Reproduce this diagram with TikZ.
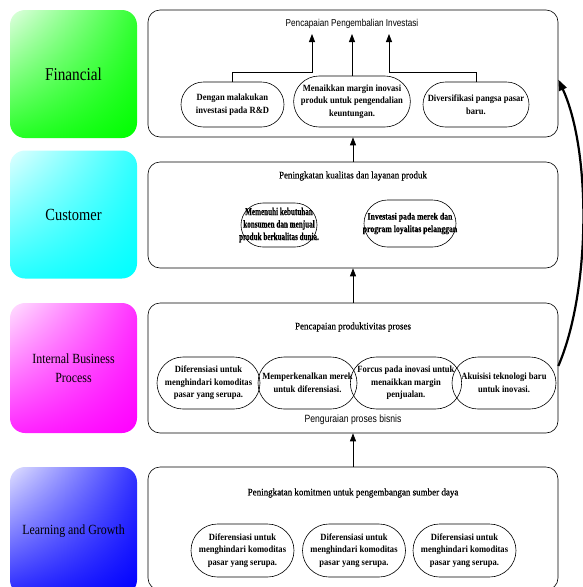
\documentclass[tikz,border=0pt]{standalone}
\usepackage{fontspec}
\usetikzlibrary{arrows.meta,shapes.misc,shadings}
\newfontfamily\catfont[FakeStretch=0.85]{Liberation Serif}
\newfontfamily\ovalfont[FakeStretch=0.9]{Liberation Serif}
\newfontfamily\tightfont[FakeStretch=0.68,FakeBold=0.5]{Liberation Serif}
\newfontfamily\snugfont[FakeStretch=0.79,FakeBold=0.3]{Liberation Serif}
\newfontfamily\titlefont[FakeStretch=0.9,FakeBold=0.6]{Liberation Serif}
\newfontfamily\narrowsans[FakeStretch=0.82]{Liberation Sans}

\begin{document}
\begin{tikzpicture}[x=1pt,y=-1pt,
  catbox/.style={shade,upper left=#1!12!white,upper right=#1!80!white,
    lower left=#1!85!white,lower right=#1,rounded corners=15pt,
    minimum width=127pt,minimum height=128pt,align=center},
  panel/.style={draw,rounded corners=12pt,minimum width=410pt,line width=.6pt},
  oval/.style={draw,rounded rectangle,minimum width=#1,minimum height=46pt,
    inner sep=1pt,line width=.6pt,align=center,
    font=\ovalfont\bfseries\fontsize{9.5}{12.5}\selectfont},
  ovaltext/.style={inner sep=0pt,align=center,font=#1},
  ptitle/.style={font=\titlefont\fontsize{10}{12}\selectfont},
  arr/.style={-{Triangle[length=8pt,width=6pt]},line width=.8pt},
  bigarr/.style={-{Triangle[length=11pt,width=8pt]},line width=2.2pt}]
\useasboundingbox (0,0) rectangle (582,587);
% Perspectives
\node[catbox=green,font=\catfont\fontsize{18}{20}\selectfont] (fin) at (73.5,74) {Financial};
\node[catbox=cyan,font=\catfont\fontsize{17}{20}\selectfont] (cust) at (73.5,214.5) {Customer};
\node[catbox=magenta,minimum height=130pt,font=\catfont\fontsize{14}{19}\selectfont] (ibp) at (73.5,368) {Internal Business\\Process};
\node[catbox=blue,font=\catfont\fontsize{14}{18}\selectfont] (lg) at (73.5,531) {Learning and Growth};
% Panels
\node[panel,minimum height=127pt] (finpanel) at (353,73.5) {};
\node[panel,minimum height=106pt] (custpanel) at (353,215) {};
\node[panel,minimum height=130pt] (ibppanel) at (353,368) {};
\node[panel,minimum height=123pt] (lgpanel) at (353,528.5) {};
% Financial
\node[font=\narrowsans\fontsize{10}{12}\selectfont] (fintitle) at (352,24) {Pencapaian Pengembalian Investasi};
\node[oval=105pt,minimum height=45pt] (f1) at (232.5,104.5) {Dengan malakukan\\investasi pada R\&D};
\node[oval=108pt,minimum height=51pt] (f2) at (352,101.5) {Menaikkan margin inovasi\\produk untuk pengendalian\\keuntungan.};
\node[oval=108pt,minimum height=45pt] (f3) at (476,104.5) {Diversifikasi pangsa pasar\\baru.};
\coordinate (fa1) at (312,34);
\coordinate (fa3) at (389,34);
\draw[arr] (f1.north) -- ++(0,-9) -| (fa1);
\draw[arr] (f2.north) -- (f2.north |- fa1);
\draw[arr] (f3.north) -- ++(0,-9) -| (fa3);
% Customer (text runs up to the oval's sides)
\node[ptitle] (custtitle) at (353,176) {Peningkatan kualitas dan layanan produk};
\node[oval=78pt,minimum height=44pt] (c1) at (279,225) {};
\node[ovaltext={\tightfont\bfseries\fontsize{10.5}{12.5}\selectfont}] (c1text) at (c1) {Memenuhi kebutuhan\\konsumen dan menjual\\produk berkualitas dunia.};
\node[oval=94pt,minimum height=47pt] (c2) at (410,223.5) {};
\node[ovaltext={\snugfont\bfseries\fontsize{9.8}{12.5}\selectfont}] (c2text) at (c2) {Investasi pada merek dan\\program loyalitas pelanggan};
% Internal business process
\node[ptitle] (ibptitle) at (353,327) {Pencapaian produktivitas proses};
\node[oval=105pt,minimum height=52pt] (i1) at (208.5,383) {Diferensiasi untuk\\menghindari komoditas\\pasar yang serupa.};
\node[oval=101pt,minimum height=52pt] (i2) at (307.5,383) {Memperkenalkan merek\\untuk diferensiasi.};
\node[oval=98pt,minimum height=52pt] (i3) at (406,383) {Forcus pada inovasi untuk\\menaikkan margin\\penjualan.};
\node[oval=106pt,minimum height=52pt] (i4) at (504,383) {Akuisisi teknologi baru\\untuk inovasi.};
\node[font=\narrowsans\fontsize{10.5}{12}\selectfont] (ibpfoot) at (353,420) {Penguraian proses bisnis};
% Learning and growth
\node[ptitle] (lgtitle) at (353,493) {Peningkatan komitmen untuk pengembangan sumber daya};
\foreach \x/\n in {242.5/1,354/2,464.5/3}
  \node[oval=105pt,minimum height=53pt] (l\n) at (\x,550.5) {Diferensiasi untuk\\menghindari komoditas\\pasar yang serupa.};
% Links between panels
\draw[arr] (custpanel.north) -- (finpanel.south);
\draw[arr] (ibppanel.north) -- (custpanel.south);
\draw[arr] (lgpanel.north) -- (ibppanel.south);
\draw[bigarr] ([yshift=2pt]ibppanel.east) .. controls (591,290) and (591,150) .. ([yshift=-6pt]finpanel.east);
\end{tikzpicture}
\end{document}
